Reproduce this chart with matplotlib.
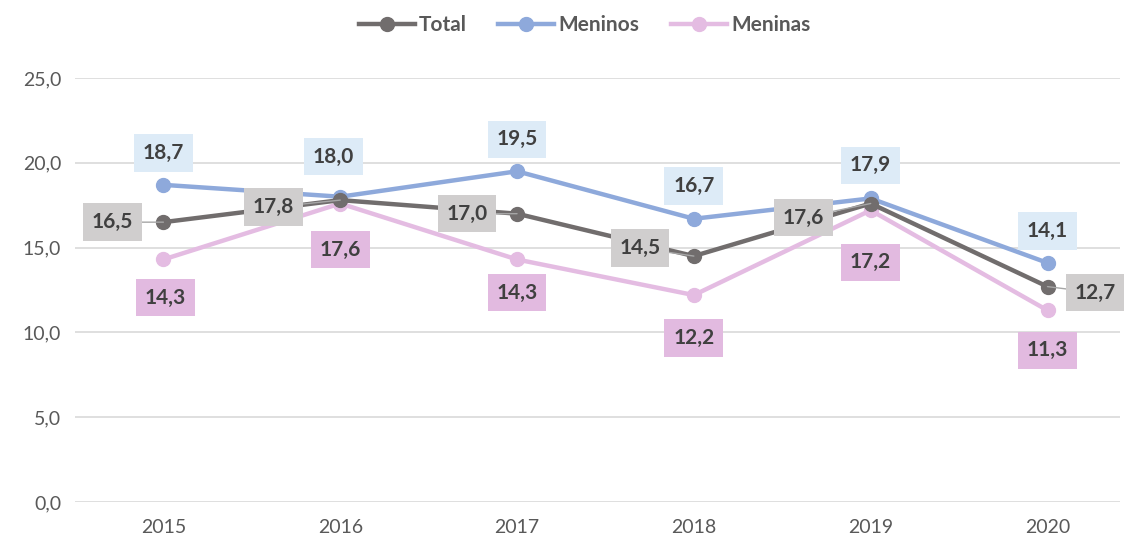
import matplotlib.pyplot as plt

# Data
anos = ["2015", "2016", "2017", "2018", "2019", "2020"]
total = [16.5, 17.8, 17.0, 14.5, 17.6, 12.7]
meninos = [18.7, 18.0, 19.5, 16.7, 17.9, 14.1]
meninas = [14.3, 17.6, 14.3, 12.2, 17.2, 11.3]

plt.rcParams['font.family'] = ['Lato', 'DejaVu Sans']

c_total = "#716D6D"
c_meninos = "#8EA9DB"
c_meninas = "#E4BCE2"
box_total = "#D0CECE"
box_meninos = "#DDEBF7"
box_meninas = "#E2BAE0"
txt = "#404040"

fig = plt.figure(figsize=(11.24, 5.41), dpi=100)
ax = fig.add_axes([75 / 1124, 1 - 502 / 541, (1120 - 75) / 1124, (502 - 78) / 541])

x = list(range(len(anos)))
ax.plot(x, total, color=c_total, lw=3.2, marker="o", ms=10, label="Total", zorder=4)
ax.plot(x, meninos, color=c_meninos, lw=3.2, marker="o", ms=10, label="Meninos", zorder=3)
ax.plot(x, meninas, color=c_meninas, lw=3.2, marker="o", ms=10, label="Meninas", zorder=2)

ax.set_xlim(-0.5, 5.41)
ax.set_ylim(0, 25)
ax.set_yticks([0, 5, 10, 15, 20, 25])
ax.set_yticklabels([f"{v:.1f}".replace(".", ",") for v in [0, 5, 10, 15, 20, 25]])
ax.set_xticks(x)
ax.set_xticklabels(anos)
ax.tick_params(axis="both", length=0, labelsize=14, labelcolor="#595959")
ax.tick_params(axis="y", pad=10)
ax.tick_params(axis="x", pad=12)
ax.grid(axis="y", color="#D9D9D9", lw=1.2)
ax.set_axisbelow(True)
for s in ax.spines.values():
    s.set_visible(False)

# label offsets in pixels (dx, dy up)
off_total = [(-51, 0), (-67, -7), (-50, 0), (-54, 8), (-67, -14), (48, -6)]
off_meninos = [(0, 32), (-7, 40), (0, 32), (0, 33), (0, 33), (0, 32)]
off_meninas = [(2, -38), (0, -46), (0, -33), (0, -43), (0, -52), (0, -40)]

def rotular(vals, offs, fc, leader):
    for i, (v, (dx, dy)) in enumerate(zip(vals, offs)):
        kw = {}
        if leader:
            kw["arrowprops"] = dict(arrowstyle="-", color="#A6A6A6", lw=1, shrinkA=0, shrinkB=0)
        ax.annotate(f"{v:.1f}".replace(".", ","), (i, v),
                    xytext=(dx * 0.72, dy * 0.72), textcoords="offset points",
                    ha="center", va="center", fontsize=15, fontweight="bold", color=txt,
                    bbox=dict(boxstyle="square,pad=0.42", fc=fc, ec="none"), zorder=6, **kw)

rotular(total, off_total, box_total, True)
rotular(meninos, off_meninos, box_meninos, False)
rotular(meninas, off_meninas, box_meninas, False)

leg = fig.legend(loc="center", bbox_to_anchor=(0.52, 1 - 25 / 541), ncol=3, frameon=False,
                 handlelength=2.7, columnspacing=1.5, handletextpad=0.2,
                 prop={"size": 15, "weight": "bold"})
for t in leg.get_texts():
    t.set_color("#595959")

fig.savefig("out.png", dpi=100)
